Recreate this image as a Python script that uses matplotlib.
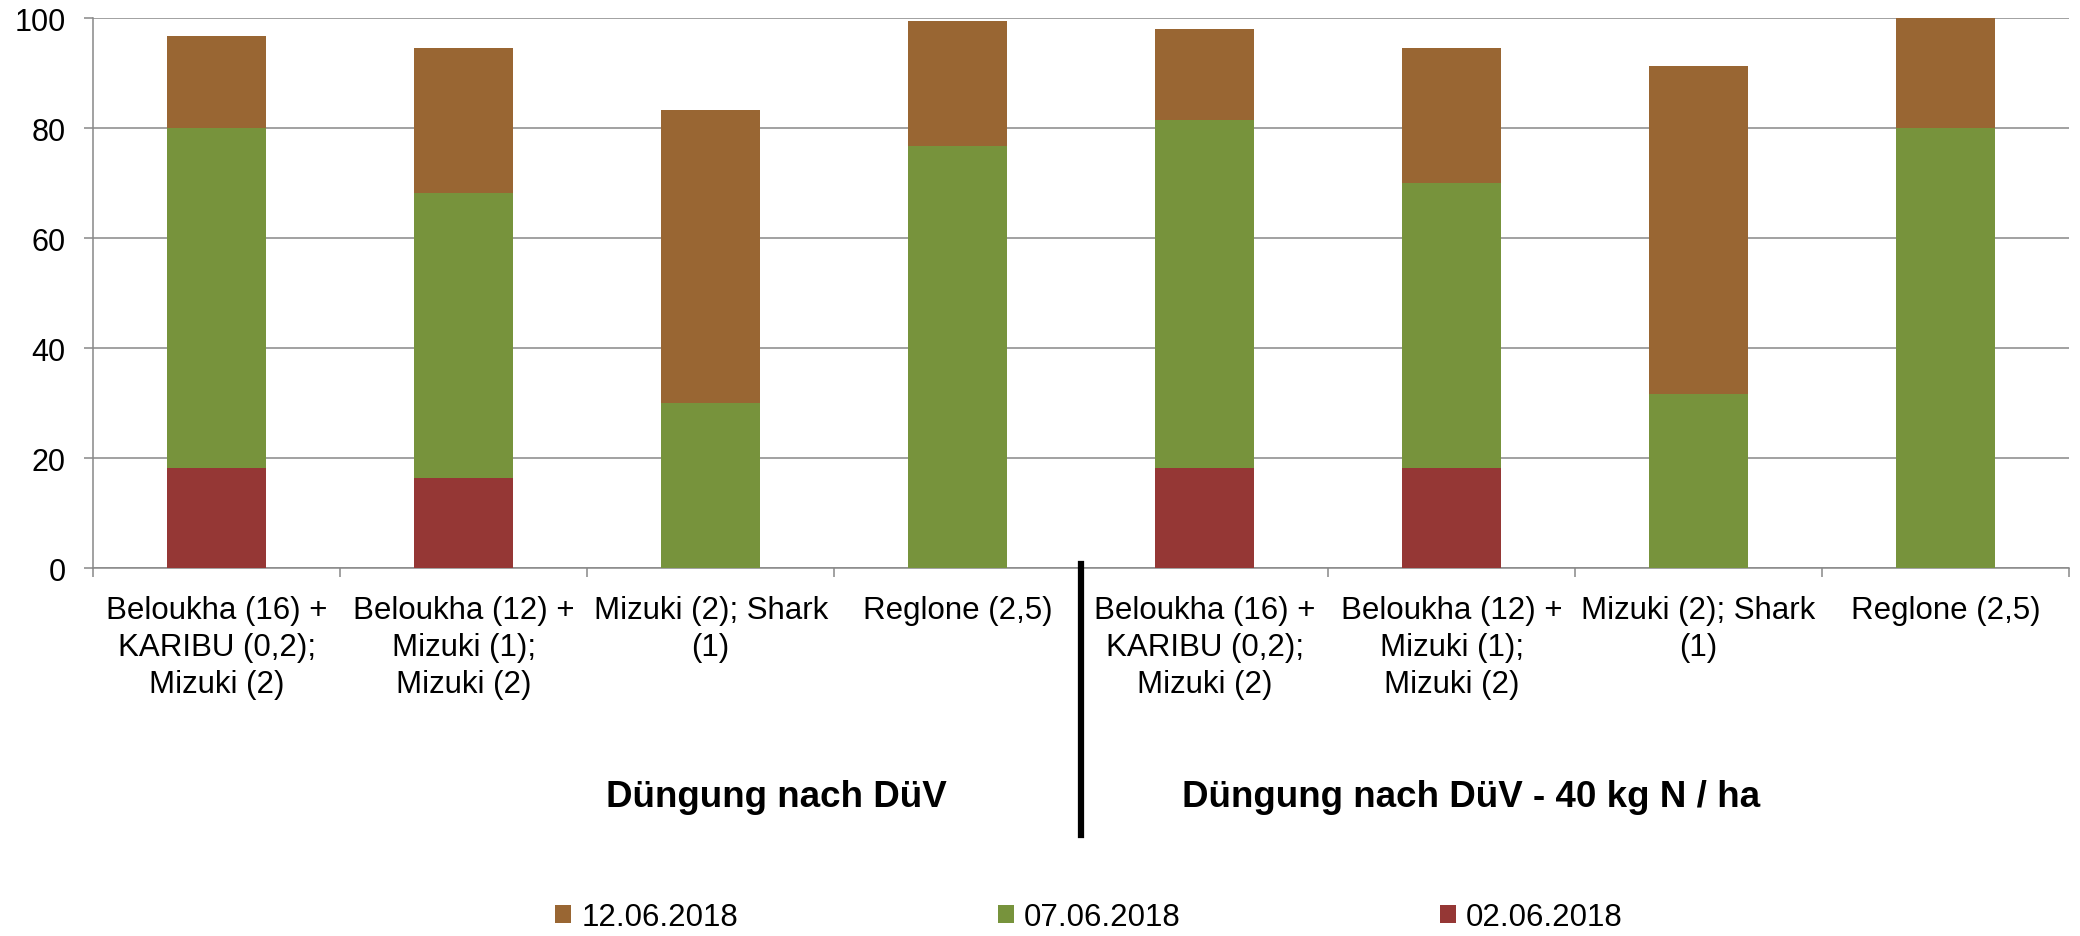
import numpy as np
import matplotlib
matplotlib.use("Agg")
import matplotlib.pyplot as plt

plt.rcParams['font.family'] = ['Liberation Sans', 'DejaVu Sans']

# treatment labels (same four treatments for both fertilisation levels)
treatments = [
    "Beloukha (16) +\nKARIBU (0,2);\nMizuki (2)",
    "Beloukha (12) +\nMizuki (1);\nMizuki (2)",
    "Mizuki (2); Shark\n(1)",
    "Reglone (2,5)",
]
labels = treatments + treatments
groups = ["Düngung nach DüV", "Düngung nach DüV - 40 kg N / ha"]

# stacked segments, bottom to top
d0206 = [18.3, 16.5, 0.0, 0.0, 18.3, 18.3, 0.0, 0.0]
d0706 = [61.7, 51.7, 30.0, 76.7, 63.3, 51.7, 31.7, 80.0]
d1206 = [16.7, 26.4, 53.3, 22.9, 16.4, 24.6, 59.6, 20.0]

c_red = "#953735"
c_green = "#77933C"
c_brown = "#996633"
grid_c = "#888888"

W, H = 2080, 937
fig = plt.figure(figsize=(W / 100, H / 100), dpi=100)
ax = fig.add_axes([93.3 / W, 1 - 569.3 / H, 1975.7 / W, 550 / H])

x = np.arange(len(labels))
bw = 0.4
b1 = ax.bar(x, d0206, bw, color=c_red, zorder=3, label="02.06.2018")
b2 = ax.bar(x, d0706, bw, bottom=d0206, color=c_green, zorder=3, label="07.06.2018")
bottom2 = np.array(d0206) + np.array(d0706)
b3 = ax.bar(x, d1206, bw, bottom=bottom2, color=c_brown, zorder=3, label="12.06.2018")

ax.set_xlim(-0.5, len(labels) - 0.5)
ax.set_ylim(0, 100)
ax.set_yticks(np.arange(0, 101, 20))
ax.yaxis.grid(True, color=grid_c, linewidth=1.1, zorder=0)
ax.set_axisbelow(True)

for s in ["top", "right"]:
    ax.spines[s].set_visible(False)
for s in ["left", "bottom"]:
    ax.spines[s].set_color(grid_c)
    ax.spines[s].set_linewidth(1.1)

ax.tick_params(axis="y", direction="out", length=6.5, width=1.1, color=grid_c,
               labelsize=22, pad=13.5)

# major ticks at category boundaries, labels on minor ticks at centers
ax.set_xticks(np.arange(-0.5, len(labels), 1.0))
ax.set_xticklabels([])
ax.tick_params(axis="x", which="major", direction="out", length=6.5, width=1.1, color=grid_c)
ax.set_xticks(x, minor=True)
ax.set_xticklabels(labels, minor=True, fontsize=22.5, linespacing=1.3)
ax.tick_params(axis="x", which="minor", length=0, pad=19.5)

# divider between the two fertilisation levels
ax.plot([3.5, 3.5], [0.007, -0.485], color="black", lw=4.5,
        transform=ax.get_xaxis_transform(), clip_on=False, zorder=5)

fig.text(776 / W, 1 - 807 / H, groups[0], fontsize=26.5, fontweight="bold",
         ha="center", va="baseline")
fig.text(1470.7 / W, 1 - 807 / H, groups[1], fontsize=26.5, fontweight="bold",
         ha="center", va="baseline")

fig.legend(handles=[b3, b2, b1], labels=["12.06.2018", "07.06.2018", "02.06.2018"],
           loc="center", bbox_to_anchor=(1089 / W, 1 - 918 / H), ncol=3,
           frameon=False, fontsize=22.5, handlelength=0.52, handleheight=0.52,
           handletextpad=0.32, columnspacing=8.3, borderpad=0)

fig.savefig("out.png", dpi=100)
